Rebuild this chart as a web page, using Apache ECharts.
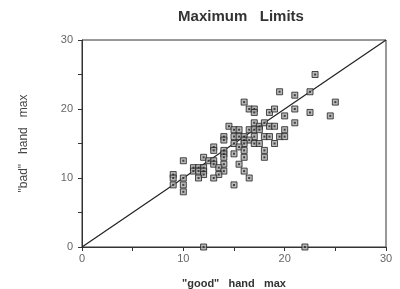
<!DOCTYPE html>
<html>
<head>
<meta charset="utf-8">
<script src="https://cdn.jsdelivr.net/npm/echarts@6/dist/echarts.min.js"></script>
<style>
html,body{margin:0;padding:0;background:#fff;}
#c{width:400px;height:289px;}
</style>
</head>
<body>
<div id="c"></div>
<script>
const goodX = [23,19.5,21,22.5,16,16.5,17,17,18.5,19,21,22.5,25,24.5,20,21,14.5,17,17.5,18,18.5,19,15,15.5,16.5,17,17.5,20,14,14,15,15.5,16,17,18,18.5,19.5,20,16,16.5,15,16,17,17.5,19,13,13,15.5,16,14,14,14,18,18,15,16,12,10,12.5,13,13,14,15.5,11,11.5,12,11,11.5,12,12,13.5,14,13.5,16,9,9,9,10,10,10,11.5,13,16.5,15,12,22];
const badY  = [25,22.5,22,22.5,21,20,20,19.5,19.5,20,20,19.5,21,19,19,18,17.5,18,17.5,18,17.5,17.5,17,17,17,17,17,17,16,15.5,16,16,16,16,16,16,16,16,15.5,15.5,15,15,15,15,15,14.5,14,14.5,14,14,13.5,13,14,13,13.5,13,13,12.5,12.5,12.5,12,12,12,11.5,11.5,11.5,11,11,11,10.5,11.5,11,10.5,11,10.5,10,9,10,9,8,10,10,10,9,0,0];
const diagonal = [[0,0],[30,30]];
const tickLabels = [0,10,20,30];

const pts = goodX.map((x,i)=>[x,badY[i]]);
const chart = echarts.init(document.getElementById('c'));
const fam = '"Liberation Sans", Arial, sans-serif';
const axisCommon = {
  min:0, max:30, interval:5,
  axisLine:{show:true, onZero:false, lineStyle:{color:'#333', width:1}},
  axisTick:{show:true, length:4, lineStyle:{color:'#333'}},
  splitLine:{show:false},
  axisLabel:{color:'#666', fontSize:11, fontFamily:fam,
    formatter:v=> tickLabels.indexOf(v)>=0 ? String(v) : ''},
  nameLocation:'middle'
};
chart.setOption({
  backgroundColor:'#fff',
  animation:false,
  title:{text:'Maximum   Limits', left:236, top:4, textAlign:'center',
    textStyle:{fontSize:15, fontWeight:'bold', color:'#333', fontFamily:fam}},
  grid:{left:82, right:14, top:40, bottom:42, containLabel:false, outerBoundsMode:'none',
    show:true, borderColor:'#333', borderWidth:1},
  xAxis:Object.assign({}, axisCommon, {type:'value', name:'"good"   hand   max', nameGap:31,
    nameTextStyle:{color:'#333', fontSize:11, fontWeight:'bold', fontFamily:fam},
    axisLabel:Object.assign({}, axisCommon.axisLabel, {margin:6})}),
  yAxis:Object.assign({}, axisCommon, {type:'value', name:'"bad"   hand   max', nameGap:52,
    nameTextStyle:{color:'#444', fontSize:12, fontWeight:'normal', fontFamily:fam},
    axisLabel:Object.assign({}, axisCommon.axisLabel, {margin:9})}),
  series:[
    {type:'line', data:diagonal, showSymbol:false, symbol:'none',
      lineStyle:{color:'#222', width:1.2}, z:1},
    {type:'scatter', data:pts, symbol:'rect', symbolSize:6,
      itemStyle:{color:'#a8a8a8', borderColor:'#222', borderWidth:1}, z:2},
    {type:'scatter', data:pts, symbol:'rect', symbolSize:2,
      itemStyle:{color:'#222'}, z:3, silent:true}
  ]
});
</script>
</body>
</html>
